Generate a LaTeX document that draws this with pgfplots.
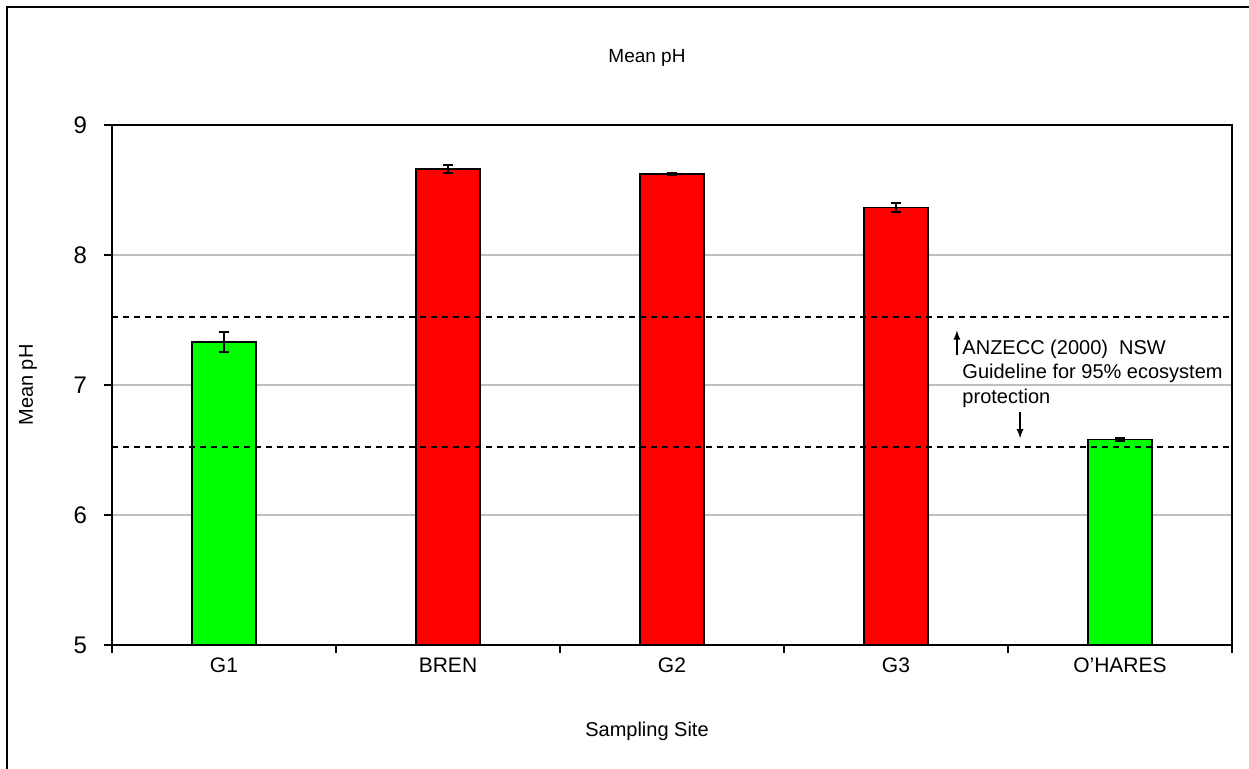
\documentclass[border=0pt]{standalone}
\usepackage{pgfplots}
\pgfplotsset{compat=1.18}
\usepackage{fontspec}
\setmainfont{Liberation Sans}
\definecolor{barGreen}{RGB}{0,255,0}
\definecolor{barRed}{RGB}{255,0,0}
\begin{document}
\begin{tikzpicture}
\useasboundingbox (0,0) rectangle (624.5pt,-384.5pt);
% outer chart frame (right and bottom edges fall outside the picture)
\draw[line width=1.1pt] (3.5pt,-395pt) -- (3.5pt,-3.5pt) -- (635pt,-3.5pt);
\node[font=\fontsize{9.5}{12}\selectfont] at (323.5pt,-29pt) {Mean pH};
\node[font=\fontsize{10}{12}\selectfont] at (323.5pt,-365.5pt) {Sampling Site};
\node[font=\fontsize{10}{12}\selectfont, rotate=90] at (14pt,-192.5pt) {Mean pH};
\begin{axis}[
    at={(56pt,-322.5pt)}, anchor=south west,
    scale only axis, width=560pt, height=260pt,
    xmin=-0.5, xmax=4.5, ymin=5, ymax=9,
    ytick={5,6,7,8,9},
    xtick={-0.5,0.5,1.5,2.5,3.5,4.5},
    xticklabels={},
    extra x ticks={0,1,2,3,4},
    extra x tick labels={G1,BREN,G2,G3,O'HARES},
    extra x tick style={major tick length=0pt},
    tick align=outside, tick pos=left,
    major tick length=4pt,
    tick style={black, line width=0.6pt},
    ymajorgrids, grid style={gray!50, line width=0.6pt},
    axis line style={black, line width=0.8pt},
    xticklabel style={font=\fontsize{10.5}{12}\selectfont, yshift=-3pt},
    yticklabel style={font=\fontsize{12}{12}\selectfont, xshift=-5pt},
    /pgf/number format/assume math mode=true,
    clip=false,
]
\addplot[ybar, bar width=0.286, bar shift=0pt, fill=barGreen, draw=black, line width=0.8pt,
    error bars/.cd, y dir=both, y explicit,
    error bar style={line width=1pt}, error mark options={rotate=90, line width=1pt, mark size=2.4pt}]
    coordinates {(0,7.33) +- (0,0.08) (4,6.58) +- (0,0.01)};
\addplot[ybar, bar width=0.286, bar shift=0pt, fill=barRed, draw=black, line width=0.8pt,
    error bars/.cd, y dir=both, y explicit,
    error bar style={line width=1pt}, error mark options={rotate=90, line width=1pt, mark size=2.4pt}]
    coordinates {(1,8.66) +- (0,0.03) (2,8.625) +- (0,0.008) (3,8.365) +- (0,0.035)};
% ANZECC guideline range
\addplot[black, line width=0.9pt, dash pattern=on 3pt off 2.5pt] coordinates {(-0.5,7.52) (4.5,7.52)};
\addplot[black, line width=0.9pt, dash pattern=on 3pt off 2.5pt] coordinates {(-0.5,6.52) (4.5,6.52)};
\draw[-latex, line width=0.6pt] (axis cs:3.272,7.23) -- (axis cs:3.272,7.42);
\draw[-latex, line width=0.6pt] (axis cs:3.554,6.79) -- (axis cs:3.554,6.59);
\node[anchor=north west, align=left, inner sep=0pt, font=\fontsize{10}{12.25}\selectfont]
    at (axis cs:3.295,7.35) {ANZECC (2000)\ \ NSW\\Guideline for 95\% ecosystem\\protection};
\end{axis}
\end{tikzpicture}
\end{document}
